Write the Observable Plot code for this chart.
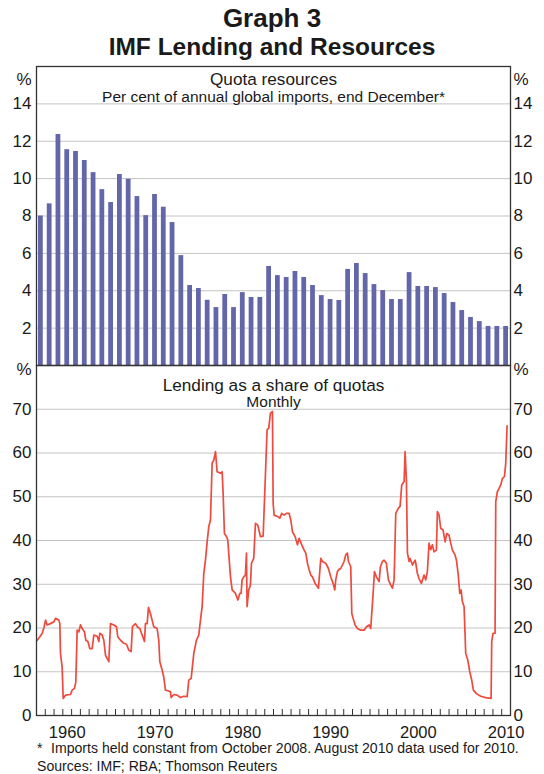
<!DOCTYPE html>
<html><head><meta charset="utf-8">
<script src="https://cdn.jsdelivr.net/npm/d3@7"></script>
<script src="https://cdn.jsdelivr.net/npm/@observablehq/plot@0.6"></script>
<style>
html,body{margin:0;padding:0;background:#fff;}
#chart{position:relative;width:544px;height:774px;font-family:"Liberation Sans",Arial,Helvetica,sans-serif;color:#1a1a1a;overflow:hidden;background:#fff}
.abs{position:absolute;left:0;width:544px;text-align:center;line-height:1;white-space:nowrap}
.panel{position:absolute;left:0;width:544px}
#foot{position:absolute;left:37px;top:739px;font-size:14.1px;line-height:18px;white-space:nowrap}
</style></head>
<body>
<div id="chart">
  <div class="abs" style="top:5px;font-size:26px;font-weight:bold">Graph 3</div>
  <div class="abs" style="top:35px;font-size:24.5px;font-weight:bold">IMF Lending and Resources</div>
  <div class="panel" id="top" style="top:40px"></div>
  <div class="panel" id="bottom" style="top:355px"></div>
  <div id="foot"><span style="display:inline-block;width:14px">*</span>Imports held constant from October 2008. August 2010 data used for 2010.<br>Sources: IMF; RBA; Thomson Reuters</div>
</div>
<script>
// ---- Data: quota resources (per cent of annual global imports, end December)
const quotaYears = [1957,1958,1959,1960,1961,1962,1963,1964,1965,1966,1967,1968,1969,1970,1971,1972,1973,1974,1975,1976,1977,1978,1979,1980,1981,1982,1983,1984,1985,1986,1987,1988,1989,1990,1991,1992,1993,1994,1995,1996,1997,1998,1999,2000,2001,2002,2003,2004,2005,2006,2007,2008,2009,2010];
const quotaValues = [8.0,8.65,12.36,11.55,11.45,10.97,10.32,9.41,8.72,10.22,9.97,9.04,8.02,9.15,8.47,7.65,5.88,4.28,4.12,3.49,3.10,3.80,3.10,3.90,3.64,3.64,5.30,4.81,4.71,5.03,4.71,4.28,3.74,3.53,3.48,5.14,5.46,4.92,4.33,4.01,3.53,3.53,4.97,4.23,4.23,4.17,3.85,3.37,2.94,2.57,2.35,2.09,2.09,2.09];

// ---- Data: lending as a share of quotas (monthly; decimal years)
const lendDates = [1957.08,1957.38,1957.65,1957.84,1958.03,1958.21,1958.59,1958.97,1959.16,1959.54,1959.66,1959.73,1959.92,1960.04,1960.30,1960.87,1961.06,1961.33,1961.48,1961.63,1961.82,1962.01,1962.20,1962.47,1962.62,1962.85,1963.07,1963.34,1963.53,1963.91,1964.10,1964.21,1964.48,1964.67,1964.86,1965.05,1965.24,1965.43,1965.81,1966.11,1966.26,1966.57,1966.95,1967.25,1967.52,1967.78,1967.93,1968.28,1968.47,1968.77,1969.03,1969.30,1969.41,1969.60,1969.76,1969.98,1970.17,1970.36,1970.74,1970.93,1971.05,1971.31,1971.50,1971.69,1972.07,1972.26,1972.34,1972.64,1973.02,1973.40,1973.78,1974.16,1974.35,1974.62,1974.92,1975.22,1975.49,1975.68,1975.87,1976.06,1976.25,1976.44,1976.63,1976.82,1977.01,1977.20,1977.39,1977.58,1977.96,1978.15,1978.26,1978.41,1978.64,1978.79,1979.10,1979.29,1979.48,1979.67,1979.94,1980.16,1980.31,1980.42,1980.61,1980.80,1980.92,1980.99,1981.18,1981.37,1981.49,1981.75,1981.94,1982.21,1982.51,1982.82,1983.08,1983.27,1983.46,1983.65,1983.88,1983.96,1984.07,1984.45,1984.72,1984.94,1985.21,1985.47,1985.78,1985.97,1986.16,1986.46,1986.73,1986.92,1987.22,1987.49,1987.68,1987.87,1988.06,1988.25,1988.44,1988.74,1989.12,1989.39,1989.57,1989.95,1990.26,1990.52,1990.79,1990.98,1991.09,1991.28,1991.47,1991.66,1991.85,1992.04,1992.23,1992.42,1992.54,1992.80,1992.92,1993.07,1993.30,1993.56,1993.94,1994.32,1994.59,1994.89,1995.08,1995.19,1995.35,1995.50,1995.72,1996.03,1996.18,1996.41,1996.60,1996.86,1997.09,1997.36,1997.55,1997.74,1997.93,1998.23,1998.42,1998.61,1998.88,1998.99,1999.14,1999.26,1999.45,1999.56,1999.83,2000.13,2000.21,2000.39,2000.58,2000.85,2001.15,2001.34,2001.53,2001.72,2001.91,2002.10,2002.29,2002.56,2002.67,2002.86,2003.05,2003.32,2003.55,2003.74,2004.00,2004.19,2004.38,2004.68,2004.84,2005.03,2005.22,2005.37,2005.52,2005.71,2005.90,2006.13,2006.36,2006.58,2006.77,2007.11,2007.61,2008.18,2008.79,2008.86,2009.01,2009.24,2009.32,2009.51,2009.70,2009.89,2010.08,2010.31,2010.46,2010.61];
const lendValues = [17.2,18.0,18.8,20.0,21.8,20.7,21.0,21.4,22.2,21.8,21.0,14.2,11.1,3.9,4.65,4.8,5.8,6.2,7.7,19.5,19.1,20.7,19.9,19.1,17.2,16.9,15.3,15.3,18.4,18.1,16.9,18.8,18.4,17.2,13.8,13.0,12.3,21.0,20.7,20.3,18.0,17.2,16.5,16.3,14.9,14.6,20.3,21.0,20.3,19.9,18.4,16.9,21.0,21.0,24.7,23.3,21.8,20.3,19.9,17.2,12.3,10.4,8.8,5.8,5.6,5.4,4.1,4.8,4.65,4.1,4.4,4.3,8.1,8.5,14.2,17.2,18.4,21.8,24.9,32.5,35.5,39.7,43.2,44.7,57.7,58.4,60.3,55.7,55.4,55.7,50.8,41.6,40.9,40.1,31.7,28.7,28.3,27.9,26.4,27.9,27.9,31.0,31.7,32.1,37.1,24.9,28.7,29.8,34.8,35.9,43.9,43.5,40.9,41.0,55.0,65.3,65.7,69.1,69.5,48.5,45.8,45.5,45.1,46.2,45.8,46.2,46.2,44.7,42.0,40.9,39.0,40.5,39.0,37.8,37.1,34.8,33.3,32.1,31.7,30.2,29.1,35.9,35.2,34.8,33.6,31.7,30.2,28.7,31.0,32.9,33.4,33.6,34.4,35.2,36.7,37.1,35.2,34.0,23.3,22.2,20.7,19.9,19.5,19.5,20.3,20.7,19.9,23.3,27.9,32.9,31.7,30.6,34.0,35.2,35.5,34.8,31.0,29.8,29.1,31.0,46.2,47.4,47.8,52.7,53.5,60.3,53.9,37.1,35.2,35.9,34.4,35.5,34.8,32.5,31.3,30.2,32.1,31.0,32.9,39.4,37.9,39.0,37.4,37.8,46.6,45.8,42.8,42.4,39.7,41.6,41.2,39.4,37.8,36.7,35.5,32.5,27.9,28.7,26.0,24.9,14.2,12.7,10.0,8.1,5.8,5.0,4.4,4.1,3.9,16.9,18.8,18.8,48.9,51.2,51.9,52.7,54.2,54.6,57.7,66.2];

// ---- Tick labels
const quotaTicks = [2,4,6,8,10,12,14];
const lendTicks = [0,10,20,30,40,50,60,70];
const decadeLabels = [1960,1970,1980,1990,2000,2010];
const yearTicks = d3.range(1958, 2011);

const quota = quotaYears.map((year, i) => ({year, value: quotaValues[i]}));
const lend = lendDates.map((date, i) => ({date, value: lendValues[i]}));

const FONT = "Liberation Sans, Arial, Helvetica, sans-serif";
const INK = "#1a1a1a";
const GRID = "#c4c4c4";
const FRAME = "#333333";

const topPlot = Plot.plot({
  width: 544, height: 327,
  marginTop: 26, marginBottom: 2, marginLeft: 36, marginRight: 34,
  style: {background: "transparent", fontFamily: FONT, color: INK, overflow: "visible"},
  x: {domain: [1957, 2011], axis: null},
  y: {domain: [0, 16], axis: null},
  marks: [
    Plot.gridY(quotaTicks, {stroke: GRID, strokeOpacity: 1, strokeWidth: 1}),
    Plot.rectY(quota, {x: "year", y: "value", interval: 1, insetLeft: 2, insetRight: 2, fill: "#6466aa"}),
    Plot.axisY({anchor: "left", label: null, ticks: [...quotaTicks, 15.3], tickSize: 0, tickPadding: 5, fontSize: 17, tickFormat: d => d > 15 ? "%" : String(d)}),
    Plot.axisY({anchor: "right", label: null, ticks: [...quotaTicks, 15.3], tickSize: 0, tickPadding: 3, fontSize: 17, tickFormat: d => d > 15 ? "%" : String(d)}),
    Plot.text(["Quota resources"], {text: d => d, frameAnchor: "top", lineAnchor: "top", dy: 6, fontSize: 17.2}),
    Plot.text(["Per cent of annual global imports, end December*"], {text: d => d, frameAnchor: "top", lineAnchor: "top", dy: 24.5, fontSize: 15.5}),
    Plot.frame({stroke: FRAME, strokeWidth: 1.3})
  ]
});
document.getElementById("top").appendChild(topPlot);

const bottomPlot = Plot.plot({
  width: 544, height: 395,
  marginTop: 10, marginBottom: 35, marginLeft: 36, marginRight: 34,
  style: {background: "transparent", fontFamily: FONT, color: INK, overflow: "visible"},
  x: {domain: [1957, 2011], axis: null},
  y: {domain: [0, 80], axis: null},
  marks: [
    Plot.gridY(lendTicks.filter(d => d > 0), {stroke: GRID, strokeOpacity: 1, strokeWidth: 1}),
    Plot.ruleX(yearTicks, {x: d => d, insetTop: 344, stroke: FRAME, strokeWidth: 1}),
    Plot.lineY(lend, {x: "date", y: "value", stroke: "#ee4a3e", strokeWidth: 1.7, curve: "linear"}),
    Plot.axisY({anchor: "left", label: null, ticks: [...lendTicks, 79], tickSize: 0, tickPadding: 5, fontSize: 17, tickFormat: d => d > 75 ? "%" : String(d)}),
    Plot.axisY({anchor: "right", label: null, ticks: [...lendTicks, 79], tickSize: 0, tickPadding: 3, fontSize: 17, tickFormat: d => d > 75 ? "%" : String(d)}),
    Plot.axisX({anchor: "bottom", label: null, ticks: decadeLabels.map(d => d + 0.5), tickSize: 0, tickPadding: 11, fontSize: 16.5, tickFormat: d => String(Math.floor(d))}),
    Plot.text(["Lending as a share of quotas"], {text: d => d, frameAnchor: "top", lineAnchor: "top", dy: 13, fontSize: 17.2}),
    Plot.text(["Monthly"], {text: d => d, frameAnchor: "top", lineAnchor: "top", dy: 30.5, fontSize: 15.5}),
    Plot.frame({stroke: FRAME, strokeWidth: 1.3})
  ]
});
document.getElementById("bottom").appendChild(bottomPlot);
</script>
</body></html>
